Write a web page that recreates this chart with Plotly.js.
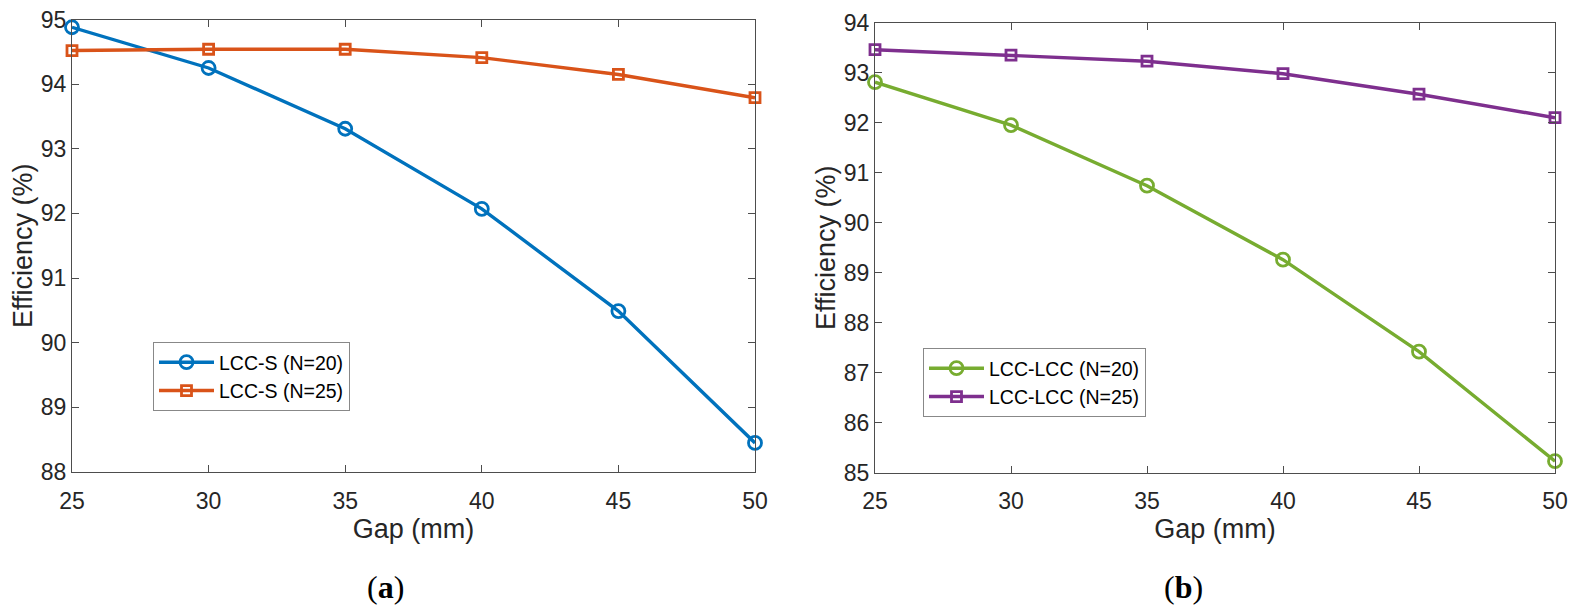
<!DOCTYPE html>
<html>
<head>
<meta charset="utf-8">
<script src="https://cdn.plot.ly/plotly-3.0.1.min.js"></script>
<style>html,body{margin:0;padding:0;background:#fff;}#chart{width:1580px;height:612px;}</style>
</head>
<body>
<div id="chart"></div>
<script>
const gaps = [25, 30, 35, 40, 45, 50];
const lccS_N20 = [94.88, 94.25, 93.31, 92.07, 90.49, 88.45];
const lccS_N25 = [94.52, 94.54, 94.54, 94.41, 94.15, 93.79];
const lccLcc_N20 = [92.81, 91.95, 90.74, 89.26, 87.42, 85.23];
const lccLcc_N25 = [93.46, 93.35, 93.23, 92.98, 92.57, 92.10];
const xTicks = [25, 30, 35, 40, 45, 50];
const yTicksA = [88, 89, 90, 91, 92, 93, 94, 95];
const yTicksB = [85, 86, 87, 88, 89, 90, 91, 92, 93, 94];
const names = ["LCC-S (N=20)", "LCC-S (N=25)", "LCC-LCC (N=20)", "LCC-LCC (N=25)"];
const colors = ["#0072BD", "#D95319", "#77AC30", "#7E2F8E"];

const FONT = "Liberation Sans, Arial, Helvetica, sans-serif";
const AX = "#4d4d4d";

function mkTrace(y, i, xa, ya, sym, size, leg) {
  return {
    x: gaps, y: y, name: names[i], type: "scatter", mode: "lines+markers",
    xaxis: xa, yaxis: ya, legend: leg,
    line: {color: colors[i], width: 3.4},
    marker: {symbol: sym, size: size, color: colors[i], line: {color: colors[i], width: 2.8}},
    cliponaxis: false
  };
}

const data = [
  mkTrace(lccS_N20, 0, "x", "y", "circle-open", 13, "legend"),
  mkTrace(lccS_N25, 1, "x", "y", "square-open", 10, "legend"),
  mkTrace(lccLcc_N20, 2, "x2", "y2", "circle-open", 13, "legend2"),
  mkTrace(lccLcc_N25, 3, "x2", "y2", "square-open", 10, "legend2")
];

function xax(domain, anchor) {
  return {
    domain: domain, anchor: anchor, range: [25, 50], tickvals: xTicks,
    ticks: "inside", ticklen: 7, tickwidth: 1, tickcolor: AX,
    showline: true, linecolor: AX, linewidth: 1, mirror: "ticks",
    showgrid: false, zeroline: false, ticklabelstandoff: 8,
    tickfont: {family: FONT, size: 23, color: "#262626"},
    title: {text: "Gap (mm)", font: {family: FONT, size: 27, color: "#262626"}, standoff: 0}
  };
}
function yax(domain, anchor, range, ticks) {
  return {
    domain: domain, anchor: anchor, range: range, tickvals: ticks,
    ticks: "inside", ticklen: 7, tickwidth: 1, tickcolor: AX,
    showline: true, linecolor: AX, linewidth: 1, mirror: "ticks",
    showgrid: false, zeroline: false,
    tickfont: {family: FONT, size: 23, color: "#262626"},
    title: {text: "Efficiency (%)", font: {family: FONT, size: 27, color: "#262626"}, standoff: 0}
  };
}

const legendStyle = {
  bgcolor: "#ffffff", bordercolor: "#888888", borderwidth: 1,
  font: {family: FONT, size: 19.5, color: "#000000"},
  xanchor: "left", yanchor: "top", itemwidth: 55, tracegroupgap: 0
};

const layout = {
  width: 1580, height: 612,
  margin: {l: 0, r: 0, t: 0, b: 0},
  paper_bgcolor: "#ffffff", plot_bgcolor: "#ffffff",
  showlegend: true,
  xaxis: xax([72/1580, 755/1580], "y"),
  yaxis: yax([1 - 472/612, 1 - 19.5/612], "x", [88, 95], yTicksA),
  xaxis2: xax([875/1580, 1555/1580], "y2"),
  yaxis2: yax([1 - 472.7/612, 1 - 22.7/612], "x2", [85, 94], yTicksB),
  legend: Object.assign({}, legendStyle, {x: 153/1580, y: 1 - 342/612}),
  legend2: Object.assign({}, legendStyle, {x: 923/1580, y: 1 - 348/612}),
  annotations: [
    {text: "(<b>a</b>)", xref: "paper", yref: "paper", x: 385/1580, y: 1 - 587/612,
     showarrow: false, xanchor: "center", yanchor: "middle",
     font: {family: "Liberation Serif, Times New Roman, serif", size: 32, color: "#000"}},
    {text: "(<b>b</b>)", xref: "paper", yref: "paper", x: 1183/1580, y: 1 - 587/612,
     showarrow: false, xanchor: "center", yanchor: "middle",
     font: {family: "Liberation Serif, Times New Roman, serif", size: 32, color: "#000"}}
  ]
};

Plotly.newPlot("chart", data, layout, {displayModeBar: false, staticPlot: true});
</script>
</body>
</html>
